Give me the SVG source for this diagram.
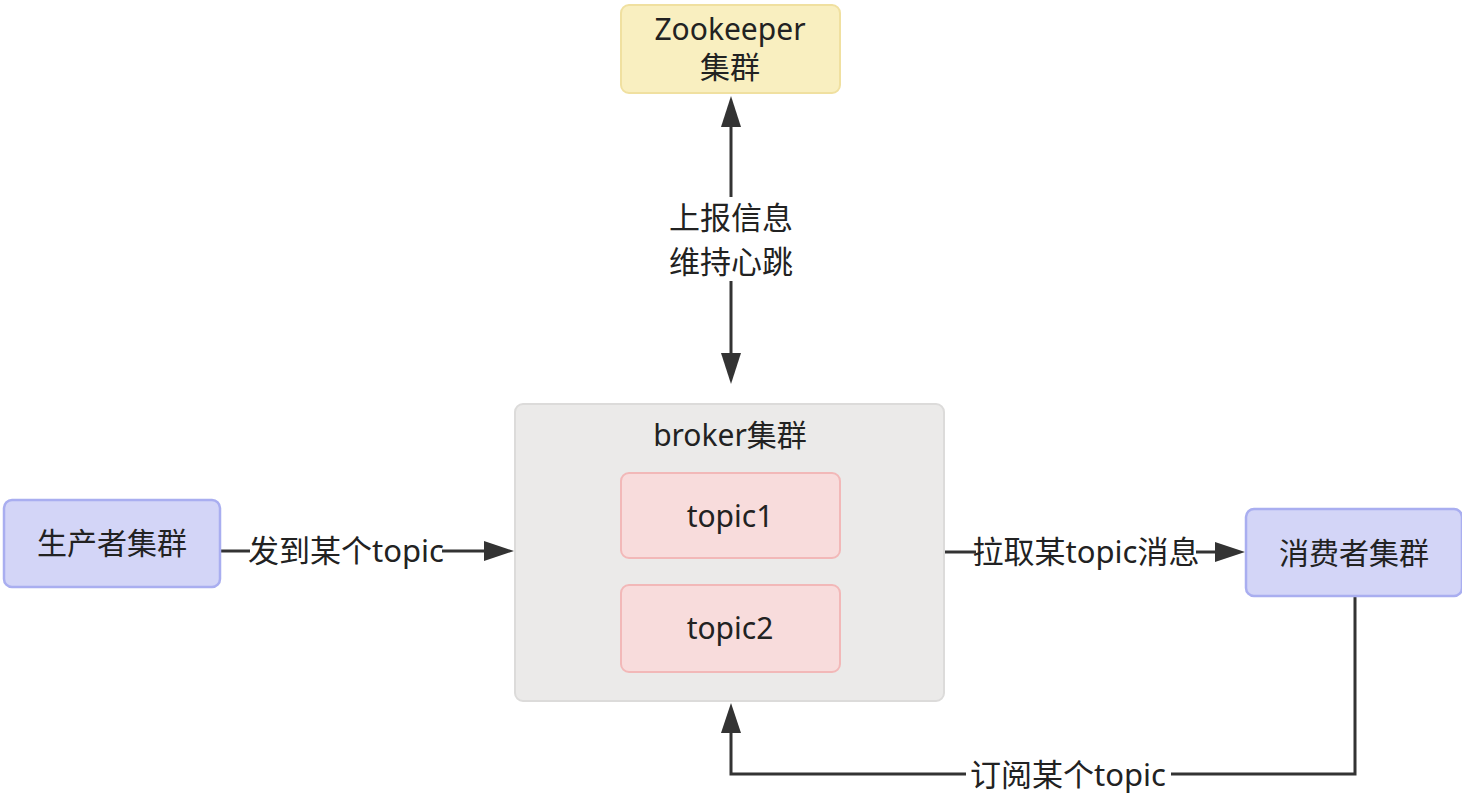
<svg xmlns="http://www.w3.org/2000/svg" width="1462" height="799" viewBox="0 0 1462 799">
<style>
text{font-family:"Noto Sans","Noto Sans CJK SC",sans-serif;font-size:30px;fill:#222;text-anchor:middle}
.lb{font-size:31px}
.ln{stroke:#333;stroke-width:3;fill:none}
.zk{fill:#f9efc0;stroke:#f0e0a0;stroke-width:2}
.br{fill:#ebeae9;stroke:#dcdbda;stroke-width:2}
.tp{fill:#f8dcdc;stroke:#f2b8b8;stroke-width:2}
.pc{fill:#d3d5f7;stroke:#a9aef0;stroke-width:2.5}
</style>
<rect width="1462" height="799" fill="#fff"/>
<g id="connectors">
<path class="ln" d="M731,197 V127"/>
<path d="M731,96 L741,127 L721,127 z" fill="#333"/>
<path class="ln" d="M731,281 V353"/>
<path d="M731,384 L741,353 L721,353 z" fill="#333"/>
<text class="lb" x="731" y="229">上报信息</text>
<text class="lb" x="731" y="273">维持心跳</text>
<path class="ln" d="M221,551 H250"/>
<path class="ln" d="M442,551 H484"/>
<path d="M514,551 L484,541 L484,561 z" fill="#333"/>
<text class="lb" x="346" y="562">发到某个topic</text>
<path class="ln" d="M945,552 H976"/>
<path class="ln" d="M1196,552 H1215"/>
<path d="M1245,552 L1215,542 L1215,562 z" fill="#333"/>
<text class="lb" x="1086" y="563">拉取某topic消息</text>
<path class="ln" d="M1355,597 V774 H1171"/>
<path class="ln" d="M966,774 H731 V733"/>
<path d="M731,703 L741,733 L721,733 z" fill="#333"/>
<text class="lb" x="1068" y="786">订阅某个topic</text>
</g>
<g id="zookeeper">
<rect class="zk" x="621" y="5" width="219" height="88" rx="8"/>
<text x="730" y="40">Zookeeper</text>
<text x="730" y="78">集群</text>
</g>
<g id="broker">
<rect class="br" x="515" y="404" width="429" height="297" rx="8"/>
<text x="730" y="446">broker集群</text>
</g>
<g id="topic1">
<rect class="tp" x="621" y="473" width="219" height="85" rx="8"/>
<text x="730" y="527">topic1</text>
</g>
<g id="topic2">
<rect class="tp" x="621" y="585" width="219" height="87" rx="8"/>
<text x="730" y="639">topic2</text>
</g>
<g id="producer">
<rect class="pc" x="4" y="500" width="216" height="87" rx="8"/>
<text x="112" y="554">生产者集群</text>
</g>
<g id="consumer">
<rect class="pc" x="1246" y="509" width="216" height="87" rx="8"/>
<text x="1354" y="564">消费者集群</text>
</g>
</svg>
